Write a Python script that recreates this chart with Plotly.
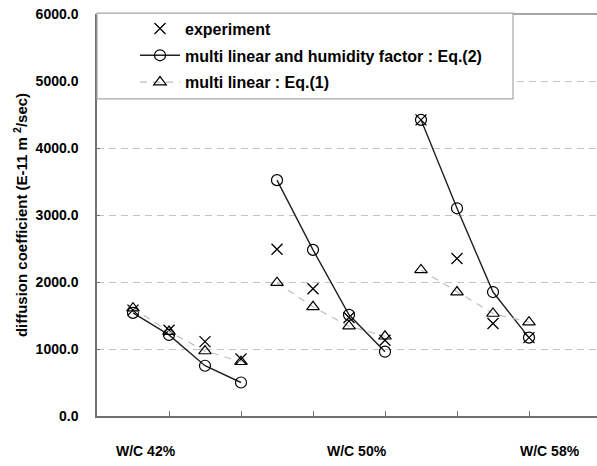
import plotly.graph_objects as go

# Mix groups and the four measurements in each group
groups = ["W/C 42%", "W/C 50%", "W/C 58%"]
label_x = [1.36, 7.22, 12.58]

# diffusion coefficient (E-11 m2/sec)
experiment = [[1580, 1280, 1110, 850], [2490, 1900, 1470, 1130], [4420, 2350, 1380, 1170]]
eq2_humidity = [[1540, 1210, 750, 500], [3520, 2480, 1510, 960], [4420, 3100, 1850, 1170]]
eq1_linear = [[1610, 1260, 970, 810], [1990, 1630, 1340, 1190], [2180, 1850, 1530, 1400]]

y_ticks = [0, 1000, 2000, 3000, 4000, 5000, 6000]
x_ticks = [2, 4, 6, 8, 10, 12]


def flatten(series):
    """Lay the groups out along a category axis, breaking the line between groups."""
    xs, ys = [], []
    for gi, vals in enumerate(series):
        for j, v in enumerate(vals):
            xs.append(1 + 4 * gi + j)
            ys.append(v)
        xs.append(None)
        ys.append(None)
    return xs[:-1], ys[:-1]


FONT = "Liberation Sans, Arial, sans-serif"
fig = go.Figure()

x_e, y_e = flatten(experiment)
fig.add_trace(go.Scatter(
    x=x_e, y=y_e, mode="markers", name="experiment", legendgroup="a",
    marker=dict(symbol="x-thin-open", size=11, color="black",
                line=dict(color="black", width=1.3)),
))

x_2, y_2 = flatten(eq2_humidity)
fig.add_trace(go.Scatter(
    x=x_2, y=y_2, mode="lines+markers", name="multi linear and humidity factor : Eq.(2)",
    legendgroup="b", connectgaps=False,
    line=dict(color="#202020", width=1.4),
    marker=dict(symbol="circle-open", size=11, color="black",
                line=dict(color="black", width=1.2)),
))

x_1, y_1 = flatten(eq1_linear)
fig.add_trace(go.Scatter(
    x=x_1, y=y_1, mode="lines+markers", name="multi linear : Eq.(1)",
    legendgroup="c", connectgaps=False,
    line=dict(color="#bdbdbd", width=1.2, dash="7px,6px"),
    marker=dict(symbol="triangle-up-open", size=11, color="black",
                line=dict(color="black", width=1.2)),
))

# group labels under the axis
for lx, name in zip(label_x, groups):
    fig.add_annotation(x=lx, y=0, xref="x", yref="y", yshift=-35, text=name,
                       showarrow=False, font=dict(family=FONT, size=14, color="black", weight="bold"))

shapes = [
    # top edge of the plot area
    dict(type="line", xref="paper", yref="paper", x0=0, x1=1, y0=1, y1=1,
         line=dict(color="#8a8a8a", width=1.5)),
    # legend frame
    dict(type="rect", xref="paper", yref="paper", x0=0, x1=0.832, y0=0.789, y1=1.002,
         fillcolor="#ffffff", opacity=1, line=dict(color="#a8a8a8", width=1.2), layer="above"),
]

fig.update_layout(
    width=597, height=466,
    margin=dict(l=97, r=0, t=14, b=50),
    paper_bgcolor="white", plot_bgcolor="white",
    font=dict(family=FONT, color="black"),
    shapes=shapes,
    showlegend=True,
    legend=dict(x=0.076, y=1.006, xanchor="left", yanchor="top",
                bgcolor="rgba(0,0,0,0)", borderwidth=0,
                tracegroupgap=3, itemwidth=40,
                font=dict(family=FONT, size=16, color="black", weight="bold")),
    xaxis=dict(range=[0, 500 / 36], tickvals=x_ticks, ticks="inside", ticklen=5,
               tickcolor="#707070", showticklabels=False, showgrid=False,
               showline=True, linecolor="#707070", linewidth=1.5, zeroline=False),
    yaxis=dict(range=[0, 6000], tickvals=y_ticks, tickformat=".1f",
               ticks="inside", ticklen=3, tickcolor="#707070",
               ticklabelstandoff=14,
               tickfont=dict(family=FONT, size=14, color="black", weight="bold"),
               showgrid=True, gridcolor="#c4c4c4", griddash="7px,5px", gridwidth=1.2,
               showline=True, linecolor="#707070", linewidth=1.5, zeroline=False,
               title=dict(text="diffusion coefficient (E-11 m <sup>2</sup>/sec)",
                          font=dict(family=FONT, size=15, color="black", weight="bold"),
                          standoff=4)),
)

fig.write_html("out.html")
